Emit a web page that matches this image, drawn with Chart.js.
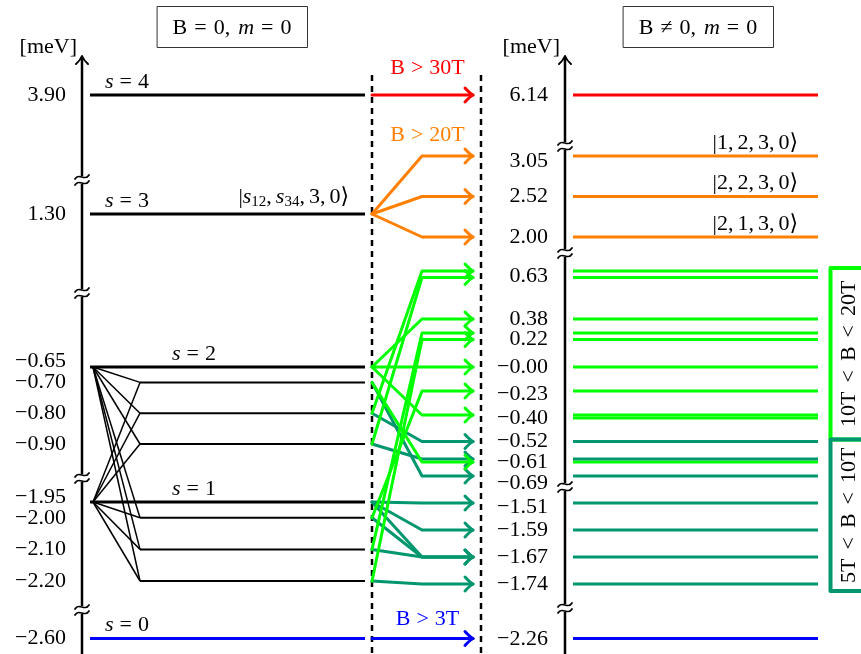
<!DOCTYPE html>
<html>
<head>
<meta charset="utf-8">
<script src="https://cdn.jsdelivr.net/npm/chart.js@4/dist/chart.umd.min.js"></script>
<style>
  html, body { margin: 0; padding: 0; background: #fff; }
</style>
</head>
<body>
<canvas id="levels" width="861" height="654"></canvas>
<script>
// ---------- data (energies in meV) ----------
// B = 0 side
const sNumbers = [0, 1, 2, 3, 4];
const sEnergies = [-2.60, -1.95, -0.65, 1.30, 3.90];
const subEnergies = [-0.70, -0.80, -0.90, -2.00, -2.10, -2.20];
const fanParents = [-0.65, -1.95];
const leftTicks = [3.90, 1.30, -0.65, -0.70, -0.80, -0.90, -1.95, -2.00, -2.10, -2.20, -2.60];

// B != 0 side
const fieldEnergies = [6.14, 3.05, 2.52, 2.00, 0.64, 0.62, 0.38, 0.24, 0.22, 0.00, -0.23, -0.39, -0.40,
  -0.52, -0.60, -0.61, -0.69, -1.51, -1.59, -1.67, -1.74, -2.26];
const fieldRegime = ['30T', '20T', '20T', '20T', '10T', '10T', '10T', '10T', '10T', '10T', '10T', '10T', '10T',
  '5T', '5T', '10T', '5T', '5T', '5T', '5T', '5T', '3T'];
const rightTicks = [6.14, 3.05, 2.52, 2.00, 0.63, 0.38, 0.22, -0.00, -0.23, -0.40, -0.52, -0.61, -0.69,
  -1.51, -1.59, -1.67, -1.74, -2.26];

// states |s12, s34, 3, 0> of the s = 3 level
const ketEnergies = [3.05, 2.52, 2.00];
const ketLabels = ['1,2,3,0', '2,2,3,0', '2,1,3,0'];

// transitions B = 0 -> B != 0
const arrowFrom = [3.90, 1.30, 1.30, 1.30, -0.65, -0.65, -0.65, -0.70, -0.70, -0.80, -0.80, -0.90, -0.90,
  -1.95, -1.95, -1.95, -2.00, -2.00, -2.10, -2.10, -2.20, -2.20, -2.60];
const arrowTo = [6.14, 3.05, 2.52, 2.00, 0.38, 0.00, -0.39, -0.61, -0.69, 0.64, -0.52, 0.62, -0.60,
  -1.51, -1.59, -1.67, -0.23, -1.67, 0.24, -1.67, 0.22, -1.74, -2.26];

const regimeText = { '30T': 'B > 30T', '20T': 'B > 20T', '3T': 'B > 3T', '10T': '10T < B < 20T', '5T': '5T < B < 10T' };

// ---------- look ----------
const SERIF = '"Liberation Serif", "DejaVu Serif", serif';
const REGIME_COLOR = { '30T': '#ff0000', '20T': '#ff8000', '10T': '#00ff00', '5T': '#00966e', '3T': '#0000ff' };
const COL = { lAxis: 82, lStart: 90, fanApex: 93, fanEnd: 140, lEnd: 365, dashL: 372, bend: 422, tip: 473,
  dashR: 481, rAxis: 565, rStart: 573, rEnd: 818, ketRight: 798, boxL: 830 };

// broken axes: energy -> vertical position on a 654 high frame
const FRAME = 654;
const AXIS_KNOTS = {
  yL: [[3.90, 95], [1.30, 214], [-0.65, 367], [-0.90, 444], [-1.95, 502], [-2.20, 581], [-2.60, 638.5]],
  yR: [[6.14, 95], [3.05, 156], [2.52, 196.5], [2.00, 237], [0.64, 271], [0.62, 277.5], [0.38, 319],
    [0.24, 333], [0.22, 339.5], [0.00, 367], [-0.23, 391], [-0.39, 415], [-0.40, 418], [-0.52, 441.5],
    [-0.60, 459], [-0.61, 462], [-0.69, 476], [-1.51, 503], [-1.59, 530], [-1.67, 557], [-1.74, 584], [-2.26, 638.5]]
};
const AXIS_BREAKS = { yL: [180, 293, 478, 610], yR: [146, 253, 487, 608] };
const TICK_NUDGE = {
  yL: { '-0.65': -6, '-1.95': -5 },
  yR: { '3.05': 5, '0.63': 2, '-0.23': 3, '-0.69': 7, '-1.51': 4, '-2.26': 1 }
};

class BrokenScale extends Chart.LinearScale {
  framePos(v) {
    const k = AXIS_KNOTS[this.id];
    if (v >= k[0][0]) return k[0][1];
    for (let i = 0; i < k.length - 1; i++) {
      const [e0, p0] = k[i], [e1, p1] = k[i + 1];
      if (v <= e0 && v >= e1) return p0 + (v - e0) / (e1 - e0) * (p1 - p0);
    }
    return k[k.length - 1][1];
  }
  getPixelForValue(v) {
    return this.top + this.framePos(v) / FRAME * (this.bottom - this.top);
  }
  getValueForPixel(px) {
    const k = AXIS_KNOTS[this.id];
    const p = (px - this.top) / (this.bottom - this.top) * FRAME;
    for (let i = 0; i < k.length - 1; i++) {
      const [e0, p0] = k[i], [e1, p1] = k[i + 1];
      if (p >= p0 && p <= p1) return e0 + (p - p0) / (p1 - p0) * (e1 - e0);
    }
    return p < k[0][1] ? k[0][0] : k[k.length - 1][0];
  }
}
BrokenScale.id = 'broken';
Chart.register(BrokenScale);

const fmt = v => (v < 0 || Object.is(v, -0) ? '\u2212' : '') + Math.abs(v).toFixed(2);
const regimeOf = e => fieldRegime[fieldEnergies.indexOf(e)];

// ---------- text helpers ----------
function partFont(kind) {
  if (kind === 'i') return 'italic 22px ' + SERIF;
  if (kind === 'sub') return '15px ' + SERIF;
  return '22px ' + SERIF;
}
function drawRich(ctx, parts, x, y, align) {
  const widths = parts.map(p => {
    if (typeof p === 'number') return p;
    ctx.font = partFont(p[1]);
    return ctx.measureText(p[0]).width;
  });
  const total = widths.reduce((a, b) => a + b, 0);
  let cx = align === 'center' ? x - total / 2 : align === 'right' ? x - total : x;
  ctx.textAlign = 'left';
  ctx.textBaseline = 'middle';
  parts.forEach((p, i) => {
    if (typeof p !== 'number') {
      ctx.font = partFont(p[1]);
      ctx.fillText(p[0], cx, p[1] === 'sub' ? y + 5 : y);
    }
    cx += widths[i];
  });
}
// words separated by wide math-like gaps
const spaced = (str, gap) => str.split(' ').flatMap((w, i) => i ? [gap, [w, '']] : [[w, '']]);

// ---------- datasets ----------
const seg = (x0, x1, y0, y1, axis, color, width) => ({
  data: [{ x: x0, y: y0 }, { x: x1, y: y1 }],
  yAxisID: axis, borderColor: color, borderWidth: width,
  pointRadius: 0, tension: 0, fill: false, borderCapStyle: 'butt'
});

const datasets = [];
fanParents.forEach(p => subEnergies.forEach(e =>
  datasets.push(seg(COL.fanApex, COL.fanEnd, p, e, 'yL', '#000', 1.5))));
subEnergies.forEach(e => datasets.push(seg(COL.fanEnd, COL.lEnd, e, e, 'yL', '#000', 2)));
sEnergies.forEach((e, i) => datasets.push(
  seg(COL.lStart, COL.lEnd, e, e, 'yL', sNumbers[i] === 0 ? REGIME_COLOR['3T'] : '#000', 3)));
fieldEnergies.forEach((e, i) => datasets.push(
  seg(COL.rStart, COL.rEnd, e, e, 'yR', REGIME_COLOR[fieldRegime[i]], 3)));

// ---------- everything around the levels ----------
function drawArrow(ctx, x0, y0, y1, color) {
  ctx.strokeStyle = color;
  ctx.lineWidth = 3;
  ctx.lineJoin = 'round';
  ctx.lineCap = 'round';
  ctx.beginPath();
  ctx.moveTo(x0, y0);
  ctx.lineTo(COL.bend, y1);
  ctx.lineTo(COL.tip, y1);
  ctx.stroke();
  ctx.beginPath();
  ctx.moveTo(COL.tip - 8, y1 - 7);
  ctx.quadraticCurveTo(COL.tip - 3, y1 - 1.5, COL.tip, y1);
  ctx.quadraticCurveTo(COL.tip - 3, y1 + 1.5, COL.tip - 8, y1 + 7);
  ctx.stroke();
}

function drawAxis(ctx, scale, x, ticks, labelRight) {
  ctx.strokeStyle = '#000';
  ctx.lineWidth = 2.5;
  ctx.lineCap = 'butt';
  ctx.beginPath();
  ctx.moveTo(x, 58);
  ctx.lineTo(x, FRAME);
  ctx.stroke();
  ctx.lineWidth = 2;
  ctx.lineCap = 'round';
  ctx.beginPath();
  ctx.moveTo(x - 6, 64);
  ctx.quadraticCurveTo(x - 1.5, 60, x, 56);
  ctx.quadraticCurveTo(x + 1.5, 60, x + 6, 64);
  ctx.stroke();
  // breaks
  AXIS_BREAKS[scale.id].forEach(by => {
    ctx.fillStyle = '#fff';
    ctx.fillRect(x - 3, by - 4, 6, 8);
    ctx.strokeStyle = '#000';
    ctx.lineWidth = 1.8;
    [-3, 3].forEach(dy => {
      ctx.beginPath();
      ctx.moveTo(x - 7, by + dy + 2);
      ctx.bezierCurveTo(x - 3, by + dy - 5, x + 3, by + dy + 5, x + 7, by + dy - 2);
      ctx.stroke();
    });
  });
  // tick labels
  ctx.fillStyle = '#000';
  ctx.font = '22px ' + SERIF;
  ctx.textAlign = 'right';
  ctx.textBaseline = 'middle';
  ticks.forEach(v => {
    const nudge = TICK_NUDGE[scale.id][String(v)] || 0;
    ctx.fillText(fmt(v), labelRight, scale.getPixelForValue(v) + nudge);
  });
  ctx.fillText('[meV]', x - 5, 47);
}

const diagram = {
  id: 'diagram',
  afterDatasetsDraw(chart) {
    const ctx = chart.ctx;
    const yL = chart.scales.yL, yR = chart.scales.yR;
    ctx.save();

    // field window (dashed)
    ctx.strokeStyle = '#000';
    ctx.lineWidth = 2.5;
    ctx.setLineDash([6, 5]);
    [COL.dashL, COL.dashR].forEach(dx => {
      ctx.beginPath();
      ctx.moveTo(dx, 75);
      ctx.lineTo(dx, FRAME);
      ctx.stroke();
    });
    ctx.setLineDash([]);

    // arrows: teal below lime
    const order = ['30T', '20T', '5T', '10T', '3T'];
    order.forEach(reg => arrowFrom.forEach((from, i) => {
      if (regimeOf(arrowTo[i]) !== reg) return;
      drawArrow(ctx, COL.dashL, yL.getPixelForValue(from), yR.getPixelForValue(arrowTo[i]), REGIME_COLOR[reg]);
    }));

    // regime captions over the window
    const lift = { '30T': 27, '20T': 21, '3T': 19 };
    Object.keys(lift).forEach(reg => {
      const top = Math.max(...fieldEnergies.filter((e, i) => fieldRegime[i] === reg));
      ctx.fillStyle = REGIME_COLOR[reg];
      drawRich(ctx, spaced(regimeText[reg], 6), (COL.dashL + COL.dashR) / 2 + 1,
        yR.getPixelForValue(top) - lift[reg], 'center');
    });

    // axes
    drawAxis(ctx, yL, COL.lAxis, leftTicks, 66);
    drawAxis(ctx, yR, COL.rAxis, rightTicks, 548);

    // s labels
    ctx.fillStyle = '#000';
    sEnergies.forEach((e, i) => {
      const inner = e === -0.65 || e === -1.95;
      drawRich(ctx, [['s', 'i'], 6, ['=', ''], 6, [String(sNumbers[i]), '']],
        inner ? 172 : 105, yL.getPixelForValue(e) - 13, 'left');
    });
    drawRich(ctx, [['|', ''], ['s', 'i'], ['12', 'sub'], [',', ''], 4, ['s', 'i'], ['34', 'sub'], [',', ''], 4,
      ['3,', ''], 4, ['0', ''], ['\u27E9', '']], 349, yL.getPixelForValue(1.30) - 17, 'right');

    // kets on the right
    ketEnergies.forEach((e, i) => {
      const parts = [['|', '']];
      ketLabels[i].split(',').forEach((d, j, arr) => {
        parts.push([d + (j < arr.length - 1 ? ',' : ''), '']);
        if (j < arr.length - 1) parts.push(4);
      });
      parts.push(['\u27E9', '']);
      drawRich(ctx, parts, COL.ketRight, yR.getPixelForValue(e) - 13, 'right');
    });

    // title boxes
    ctx.strokeStyle = '#333';
    ctx.lineWidth = 1;
    ctx.strokeRect(157.5, 6.5, 150, 41);
    ctx.strokeRect(623.5, 6.5, 150, 41);
    ctx.fillStyle = '#000';
    drawRich(ctx, [['B', ''], 7, ['=', ''], 7, ['0,', ''], 8, ['m', 'i'], 7, ['=', ''], 7, ['0', '']], 232, 28, 'center');
    drawRich(ctx, [['B', ''], 7, ['\u2260', ''], 7, ['0,', ''], 8, ['m', 'i'], 7, ['=', ''], 7, ['0', '']], 698, 28, 'center');

    // regime boxes on the far right
    const boxes = [
      ['10T', yR.getPixelForValue(0.64) - 3, yR.getPixelForValue(-0.52) - 2],
      ['5T', yR.getPixelForValue(-0.52) - 2, yR.getPixelForValue(-1.74) + 7]
    ];
    boxes.forEach(([reg, top, bottom]) => {
      ctx.strokeStyle = REGIME_COLOR[reg];
      ctx.lineWidth = 4;
      ctx.strokeRect(COL.boxL + 0.5, top, 44, bottom - top);
      ctx.save();
      ctx.translate(849, (top + bottom) / 2);
      ctx.rotate(-Math.PI / 2);
      ctx.fillStyle = '#000';
      drawRich(ctx, spaced(regimeText[reg], 9), 0, 0, 'center');
      ctx.restore();
    });

    ctx.restore();
  }
};

new Chart(document.getElementById('levels'), {
  type: 'line',
  data: { datasets },
  options: {
    responsive: false,
    animation: false,
    events: [],
    layout: { padding: 0 },
    plugins: { legend: { display: false }, tooltip: { enabled: false } },
    scales: {
      x: { type: 'linear', min: 0, max: 861, display: false },
      yL: { type: 'broken', axis: 'y', min: -3, max: 7, display: false },
      yR: { type: 'broken', axis: 'y', min: -3, max: 7, display: false }
    }
  },
  plugins: [diagram]
});
</script>
</body>
</html>
